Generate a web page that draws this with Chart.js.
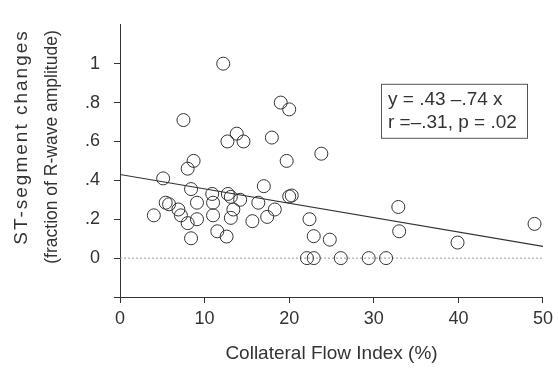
<!DOCTYPE html>
<html>
<head>
<meta charset="utf-8">
<script src="https://cdn.jsdelivr.net/npm/chart.js@4"></script>
<style>
  html, body { margin: 0; padding: 0; background: #fff; }
  #wrap { width: 558px; height: 368px; }
</style>
</head>
<body>
<div id="wrap"><canvas id="chart" width="558" height="368"></canvas></div>
<script>
// Collateral flow index (%) vs ST-segment change
const cfi = [
    12.2, 7.5, 13.8, 12.7, 14.6, 19.0, 20.0, 17.95, 23.8, 8.7,
    19.7, 8.0, 5.1, 8.4, 17.0, 10.9, 12.75, 13.1, 14.2, 20.0,
    20.3, 5.4, 5.8, 9.1, 11.0, 16.35, 6.9, 7.2, 4.0, 11.0,
    13.4, 13.1, 18.3, 17.4, 15.65, 8.0, 9.1, 11.5, 12.6, 8.4,
    22.4, 22.9, 24.8, 32.9, 33.0, 22.1, 22.9, 26.1, 29.4, 31.45,
    39.9, 49.0
];
const stChange = [
    1.0, 0.71, 0.64, 0.60, 0.60, 0.80, 0.765, 0.62, 0.537, 0.50,
    0.50, 0.46, 0.41, 0.355, 0.37, 0.33, 0.33, 0.315, 0.30, 0.317,
    0.322, 0.285, 0.277, 0.285, 0.285, 0.285, 0.25, 0.22, 0.22, 0.22,
    0.25, 0.207, 0.25, 0.212, 0.19, 0.18, 0.20, 0.138, 0.111, 0.102,
    0.20, 0.113, 0.095, 0.263, 0.138, 0, 0, 0, 0, 0,
    0.08, 0.176
];

// regression line as printed in the figure: y = .43 - .74 x (x as fraction)
const fitIntercept = 0.43;
const fitSlope = -0.0074;
const fitRange = [0, 50];
const statLines = ['y = .43 \u2013.74 x', 'r =\u2013.31, p = .02'];

const xTitle = 'Collateral Flow Index (%)';
const yTitle = ['ST-segment changes', '(fraction of R-wave amplitude)'];

const ink = '#333';
const fontFamily = '"Liberation Sans", Arial, sans-serif';

const points = cfi.map((x, i) => ({ x, y: stChange[i] }));
const fitPoints = fitRange.map(x => ({ x, y: fitIntercept + fitSlope * x }));
const zeroPoints = fitRange.map(x => ({ x, y: 0 }));

// box with the regression stats, upper right of the plot
const statBox = {
    id: 'statBox',
    afterDraw(chart) {
        const { ctx, chartArea } = chart;
        const left = chartArea.left + 261;
        const top = chartArea.top + 59;
        ctx.save();
        ctx.strokeStyle = '#555';
        ctx.lineWidth = 1;
        ctx.strokeRect(left + 0.5, top + 0.5, 146, 54);
        ctx.fillStyle = ink;
        ctx.font = '19px ' + fontFamily;
        ctx.textBaseline = 'middle';
        ctx.fillText(statLines[0], left + 7, top + 16);
        ctx.fillText(statLines[1], left + 7, top + 39);
        ctx.restore();
    }
};

// two-line rotated y title; the first line is spaced out in the original
const yTitleDraw = {
    id: 'yTitleDraw',
    afterDraw(chart) {
        const { ctx } = chart;
        const spots = [[22, 137, 19, '2px'], [52, 147, 17.5, '0px']];
        ctx.save();
        ctx.fillStyle = ink;
        ctx.textAlign = 'center';
        ctx.textBaseline = 'middle';
        yTitle.forEach((line, i) => {
            const [x, y, size, sp] = spots[i];
            ctx.save();
            ctx.font = size + 'px ' + fontFamily;
            ctx.translate(x, y);
            ctx.rotate(-Math.PI / 2);
            ctx.letterSpacing = sp;
            ctx.fillText(line, 0, 0);
            ctx.restore();
        });
        ctx.restore();
    }
};

new Chart(document.getElementById('chart'), {
    type: 'scatter',
    data: {
        datasets: [
            {
                type: 'line',
                data: zeroPoints,
                borderColor: '#999',
                borderWidth: 1,
                borderDash: [2, 2],
                pointRadius: 0,
                order: 3
            },
            {
                type: 'line',
                data: fitPoints,
                borderColor: ink,
                borderWidth: 1.2,
                pointRadius: 0,
                order: 2
            },
            {
                data: points,
                pointRadius: 6.5,
                pointBorderWidth: 1,
                borderColor: ink,
                backgroundColor: 'rgba(0,0,0,0)',
                order: 1
            }
        ]
    },
    options: {
        responsive: false,
        animation: false,
        layout: { padding: { top: 12, right: 10, left: 0, bottom: 0 } },
        plugins: { legend: { display: false }, tooltip: { enabled: false } },
        scales: {
            x: {
                type: 'linear',
                min: 0,
                max: 50,
                afterFit: s => { s.height = 71; },
                border: { color: ink, width: 1 },
                grid: { drawOnChartArea: false, tickLength: 6, color: ink },
                ticks: { stepSize: 10, color: ink, padding: 5, font: { family: fontFamily, size: 18 } },
                title: {
                    display: true,
                    text: xTitle,
                    color: ink,
                    padding: { top: 0, bottom: 3 },
                    font: { family: fontFamily, size: 19 }
                }
            },
            y: {
                type: 'linear',
                min: -0.2,
                max: 1.2,
                afterFit: s => { s.width = 120; },
                afterBuildTicks: s => { s.ticks = s.ticks.filter(t => t.value < 1.1); },
                border: { color: ink, width: 1 },
                grid: { drawOnChartArea: false, tickLength: 6, color: ink },
                ticks: {
                    stepSize: 0.2,
                    color: ink,
                    padding: 14,
                    font: { family: fontFamily, size: 18 },
                    callback: v => {
                        const r = Math.round(v * 10) / 10;
                        if (r < 0 || r > 1) return '';
                        if (r === 0 || r === 1) return String(r);
                        return String(r).replace(/^0/, '');
                    }
                }
            }
        }
    },
    plugins: [statBox, yTitleDraw]
});
</script>
</body>
</html>
